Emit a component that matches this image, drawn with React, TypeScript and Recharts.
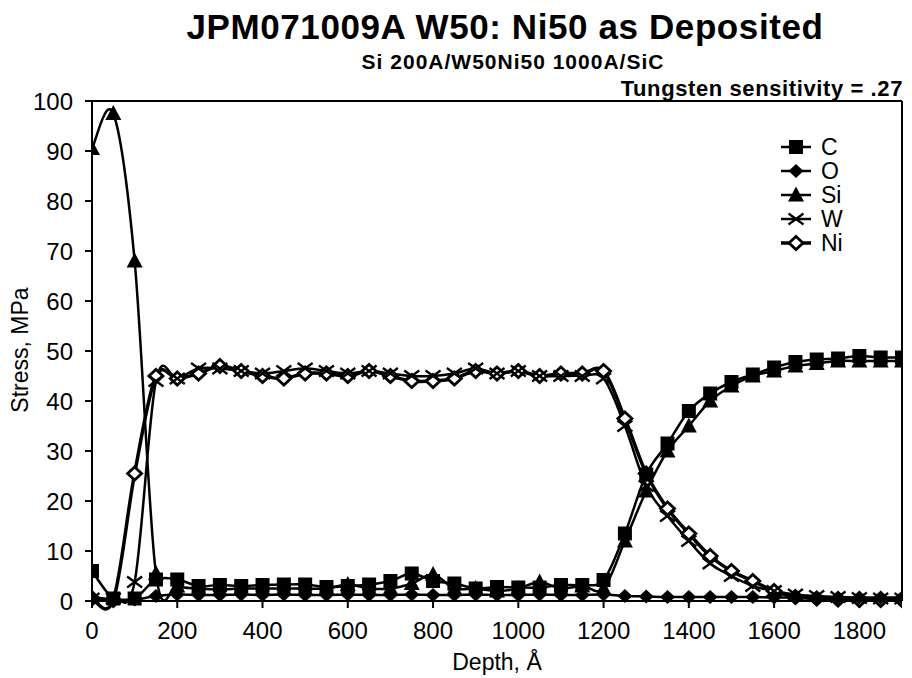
import React from "react";
import {
  LineChart,
  Line,
  XAxis,
  YAxis,
  Legend,
  ReferenceLine,
} from "recharts";

// depth in angstroms, one sample every 50 A
const depths = [
  0, 50, 100, 150, 200, 250, 300, 350, 400, 450, 500, 550, 600, 650, 700, 750, 800, 850, 900, 950,
  1000, 1050, 1100, 1150, 1200, 1250, 1300, 1350, 1400, 1450, 1500, 1550, 1600, 1650, 1700, 1750,
  1800, 1850, 1900,
];

const carbon = [
  6, 0.5, 0.5, 4.3, 4.3, 3, 3.2, 3, 3.2, 3.3, 3.3, 2.8, 3, 3.3, 4, 5.5, 4, 3.5, 2.5, 2.8,
  2.7, 2.7, 3.2, 3.2, 4.2, 13.5, 25.3, 31.5, 38, 41.5, 43.8, 45.3, 46.7, 47.8, 48.3, 48.5,
  49, 48.7, 48.7,
];
const oxygen = [
  0.8, 0.3, 0.3, 1, 1.3, 1.2, 1.2, 1.3, 1.2, 1.3, 1.2, 1.2, 1.3, 1.2, 1.2, 1.3, 1.2, 1.2, 1.3, 1.2,
  1.2, 1.3, 1.2, 1.2, 1.3, 1, 0.9, 0.8, 0.8, 0.8, 0.8, 0.8, 0.7, 0.7, 0.7, 0.7,
  0.7, 0.7, 0.7,
];
const silicon = [
  90.5, 97.5, 68, 5.5, 3, 2.5, 2.3, 2.5, 2.5, 2.5, 2.5, 2.5, 3.3, 2.5, 2.5, 3.5, 5.3, 2.5, 2.5, 2,
  2.5, 3.8, 2.5, 3, 2.5, 12, 22, 30, 35, 40, 43, 45, 46, 47, 47.5, 48,
  48, 48, 48,
];
const tungsten = [
  0.5, 0.5, 3.8, 44, 44.5, 46.5, 46.5, 46, 45.5, 46, 46.5, 46, 45.5, 46, 45.5, 45, 45, 45.5, 46.5, 45.5,
  46, 45, 45, 45, 44.5, 35, 23, 17, 12, 7.5, 5, 3, 2, 1.3, 1, 0.8,
  0.6, 0.5, 0.5,
];
const nickel = [
  0.5, 0.2, 25.5, 45, 44.5, 45.5, 47, 46, 45, 44.5, 45.5, 45.5, 45, 46, 45, 44, 44, 44.5, 46, 45.5,
  46, 45, 45.5, 45.5, 46, 36.5, 25.5, 18.5, 13.5, 9, 6, 4, 2, 0.8, 0.5, 0.3,
  0.2, 0.2, 0.2,
];

const xTicks = [0, 200, 400, 600, 800, 1000, 1200, 1400, 1600, 1800];
const yTicks = [0, 10, 20, 30, 40, 50, 60, 70, 80, 90, 100];

const data = depths.map((d, i) => ({
  depth: d,
  C: carbon[i],
  O: oxygen[i],
  Si: silicon[i],
  W: tungsten[i],
  Ni: nickel[i],
}));

const FONT = "'Liberation Sans', Arial, Helvetica, sans-serif";

// excel-style smoothed line (catmull-rom through the points)
const smooth = (context: any) => {
  let pts: number[][] = [];
  return {
    areaStart() {},
    areaEnd() {},
    lineStart() {
      pts = [];
    },
    lineEnd() {
      if (!pts.length) return;
      context.moveTo(pts[0][0], pts[0][1]);
      for (let i = 0; i < pts.length - 1; i++) {
        const p0 = pts[Math.max(i - 1, 0)];
        const p1 = pts[i];
        const p2 = pts[i + 1];
        const p3 = pts[Math.min(i + 2, pts.length - 1)];
        context.bezierCurveTo(
          p1[0] + (p2[0] - p0[0]) / 6,
          p1[1] + (p2[1] - p0[1]) / 6,
          p2[0] - (p3[0] - p1[0]) / 6,
          p2[1] - (p3[1] - p1[1]) / 6,
          p2[0],
          p2[1]
        );
      }
    },
    point(x: number, y: number) {
      pts.push([+x, +y]);
    },
  };
};

function Marker({ kind, cx, cy }: { kind: string; cx: number; cy: number }) {
  if (kind === "C") {
    return <rect x={cx - 7} y={cy - 7} width={14} height={14} fill="#000" />;
  }
  if (kind === "O") {
    return <polygon points={`${cx},${cy - 7} ${cx + 7.5},${cy} ${cx},${cy + 7} ${cx - 7.5},${cy}`} fill="#000" />;
  }
  if (kind === "Si") {
    return <polygon points={`${cx},${cy - 8.5} ${cx + 8},${cy + 6.5} ${cx - 8},${cy + 6.5}`} fill="#000" />;
  }
  if (kind === "W") {
    return (
      <g stroke="#000" strokeWidth={2.2}>
        <line x1={cx - 7.5} y1={cy - 5.5} x2={cx + 7.5} y2={cy + 5.5} />
        <line x1={cx - 7.5} y1={cy + 5.5} x2={cx + 7.5} y2={cy - 5.5} />
      </g>
    );
  }
  return (
    <polygon
      points={`${cx},${cy - 6.5} ${cx + 7},${cy} ${cx},${cy + 6.5} ${cx - 7},${cy}`}
      fill="#fff"
      stroke="#000"
      strokeWidth={2.8}
    />
  );
}

const dotFor = (kind: string) => (props: any) => (
  <Marker key={`${kind}-${props.index}`} kind={kind} cx={props.cx} cy={props.cy} />
);

function LegendBox(props: any) {
  const items = props.payload || [];
  const order = ["C", "O", "Si", "W", "Ni"];
  const sorted = order
    .map((k) => items.find((p: any) => p.dataKey === k))
    .filter(Boolean);
  return (
    <svg width={120} height={130} style={{ display: "block" }}>
      {sorted.map((p: any, i: number) => {
        const y = 12 + i * 24;
        return (
          <g key={p.dataKey}>
            <line x1={5} y1={y} x2={35} y2={y} stroke="#000" strokeWidth={p.dataKey === "Ni" ? 3.5 : 2.5} />
            <Marker kind={p.dataKey} cx={20} cy={y} />
            <text x={45} y={y + 8} fontFamily={FONT} fontSize={23} fill="#000">
              {p.value}
            </text>
          </g>
        );
      })}
    </svg>
  );
}

export default function App() {
  const axisTick = { fontSize: 24, fill: "#000", fontFamily: FONT };
  return (
    <div style={{ position: "absolute", left: 0, top: 0, width: 912, height: 678, background: "#fff" }}>
      <LineChart
        width={912}
        height={678}
        data={data}
        margin={{ top: 101, right: 10, bottom: 37, left: 0 }}
      >
        <XAxis
          dataKey="depth"
          type="number"
          domain={[0, 1900]}
          ticks={xTicks}
          tick={axisTick}
          tickSize={7}
          tickMargin={14}
          height={40}
          stroke="#000"
          strokeWidth={2}
          allowDataOverflow
        />
        <YAxis
          type="number"
          domain={[0, 100]}
          ticks={yTicks}
          tick={axisTick}
          tickSize={7}
          tickMargin={12}
          width={92}
          stroke="#000"
          strokeWidth={2}
        />
        <ReferenceLine y={100} stroke="#000" strokeWidth={2} />
        <ReferenceLine x={1900} stroke="#000" strokeWidth={2} />
        <Legend
          layout="horizontal"
          verticalAlign="middle"
          align="center"
          content={<LegendBox />}
          wrapperStyle={{ position: "absolute", left: 776, top: 135, width: 120, height: 130 }}
        />
        <Line dataKey="Ni" name="Ni" type={smooth as any} stroke="#000" strokeWidth={3.5} dot={dotFor("Ni")} activeDot={false} isAnimationActive={false} />
        <Line dataKey="W" name="W" type={smooth as any} stroke="#000" strokeWidth={2.5} dot={dotFor("W")} activeDot={false} isAnimationActive={false} />
        <Line dataKey="O" name="O" type={smooth as any} stroke="#000" strokeWidth={2.5} dot={dotFor("O")} activeDot={false} isAnimationActive={false} />
        <Line dataKey="Si" name="Si" type={smooth as any} stroke="#000" strokeWidth={2.5} dot={dotFor("Si")} activeDot={false} isAnimationActive={false} />
        <Line dataKey="C" name="C" type={smooth as any} stroke="#000" strokeWidth={2.5} dot={dotFor("C")} activeDot={false} isAnimationActive={false} />
      </LineChart>
      <svg
        width={912}
        height={678}
        style={{ position: "absolute", left: 0, top: 0, pointerEvents: "none" }}
      >
        <text x={505} y={39} textAnchor="middle" fontFamily={FONT} fontWeight="bold" fontSize={35} letterSpacing={0.6} fill="#000">
          JPM071009A W50: Ni50 as Deposited
        </text>
        <text x={513} y={69} textAnchor="middle" fontFamily={FONT} fontWeight="bold" fontSize={21} letterSpacing={1} fill="#000">
          Si 200A/W50Ni50 1000A/SiC
        </text>
        <text x={903} y={96} textAnchor="end" fontFamily={FONT} fontWeight="bold" fontSize={22} letterSpacing={0.6} fill="#000">
          Tungsten sensitivity = .27
        </text>
        <text
          transform="translate(28,350) rotate(-90)"
          textAnchor="middle"
          fontFamily={FONT}
          fontSize={23}
          fill="#000"
        >
          Stress, MPa
        </text>
        <text x={497} y={670} textAnchor="middle" fontFamily={FONT} fontSize={23} fill="#000">
          Depth, Å
        </text>
      </svg>
    </div>
  );
}
